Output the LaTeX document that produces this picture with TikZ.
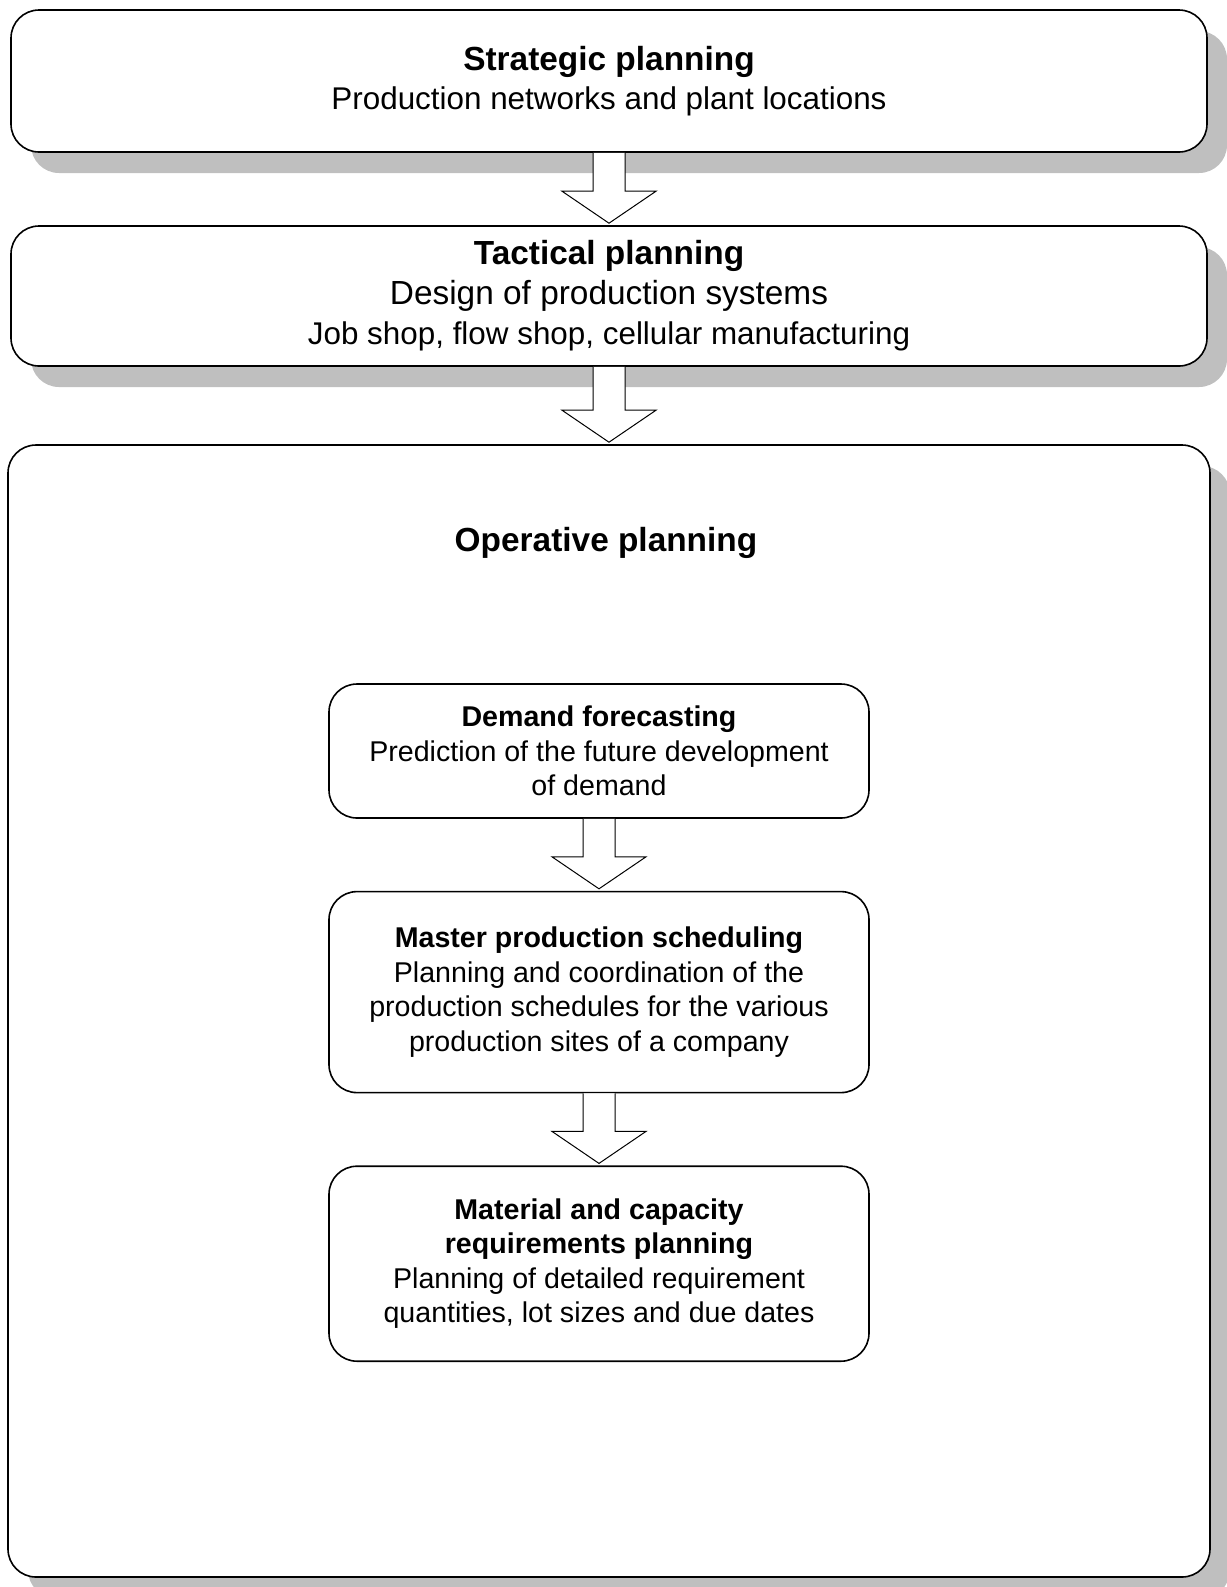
\documentclass[tikz,border=0pt]{standalone}
\usepackage{fontspec}
\setmainfont{Liberation Sans}
\usepackage{tikz}
\usetikzlibrary{positioning,shadows,calc}

\tikzset{
	planbox/.style={draw, line width=0.8pt, rounded corners=14pt, fill=white, minimum width=598pt, align=center,
		drop shadow={shadow xshift=10pt, shadow yshift=-10.5pt, fill=black!25, opacity=1},
		font=\fontsize{15.7}{19.5}\selectfont},
	stepbox/.style={draw, line width=0.8pt, rounded corners=14pt, fill=white, minimum width=270pt, align=center,
		font=\fontsize{14.3}{17.25}\selectfont},
	hollowarrow/.style={draw, line width=0.5pt, fill=white},
}
\newcommand{\bigtitle}[1]{{\fontsize{16.7}{19.5}\selectfont\bfseries #1}}
\newcommand{\blockarrow}[2]{%
	\path[hollowarrow] let \p1=(#1.south), \p2=(#2.north) in
		(\x1-8pt,\y1) -- (\x1-8pt,\y2+17pt) -- (\x1-23.5pt,\y2+17pt) -- (\x1,\y2+1pt)
		-- (\x1+23.5pt,\y2+17pt) -- (\x1+8pt,\y2+17pt) -- (\x1+8pt,\y1);
}

\begin{document}
\begin{tikzpicture}[x=0.5pt,y=-0.5pt]
			\useasboundingbox (0,0) rectangle (1227,1587);
			\node[planbox, minimum height=566pt, minimum width=601pt] (operative) at (609,1011) {};
			\node[planbox, minimum height=70pt, font=\fontsize{15.7}{20}\selectfont] (tactical) at (609,296)
				{\bigtitle{Tactical planning}\\{\fontsize{16.7}{20}\selectfont Design of production systems}\\Job shop, flow shop, cellular manufacturing};
			\node[planbox, minimum height=71pt] (strategic) at (609,81)
				{\bigtitle{Strategic planning}\\Production networks and plant locations};
			\node (optitle) at (606,543) {\bigtitle{Operative planning}};
			\node[stepbox, minimum height=67pt] (demand) at (599,751)
				{\textbf{Demand forecasting}\\Prediction of the future development\\of demand};
			\node[stepbox, minimum height=100.5pt, below=36pt of demand] (master)
				{\textbf{Master production scheduling}\\Planning and coordination of the\\production schedules for the various\\production sites of a company};
			\node[stepbox, minimum height=97.5pt, below=36pt of master] (material)
				{\textbf{Material and capacity}\\\textbf{requirements planning}\\Planning of detailed requirement\\quantities, lot sizes and due dates};
			\blockarrow{strategic}{tactical}
			\blockarrow{tactical}{operative}
			\blockarrow{demand}{master}
			\blockarrow{master}{material}
\end{tikzpicture}
\end{document}
